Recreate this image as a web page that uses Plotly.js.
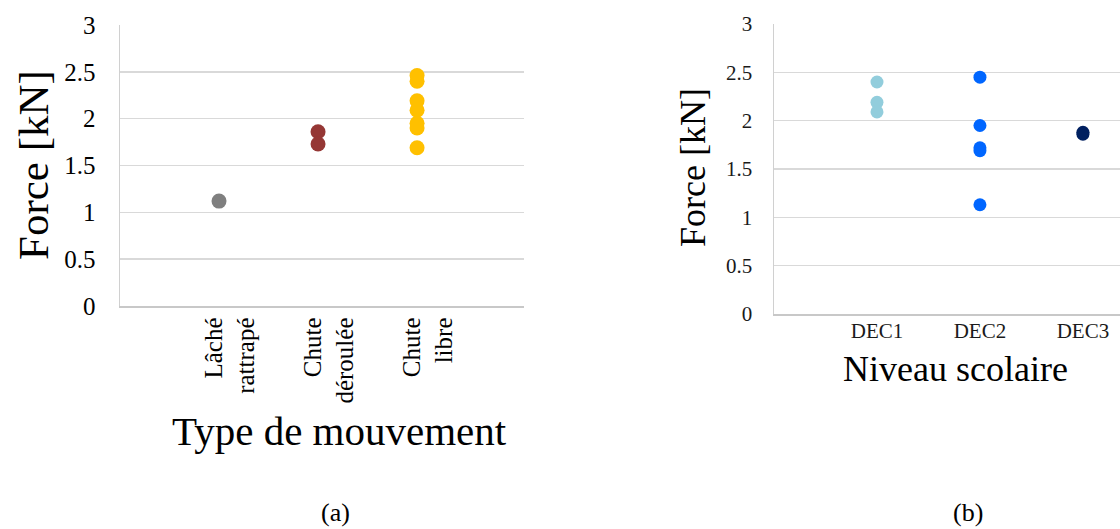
<!DOCTYPE html>
<html>
<head>
<meta charset="utf-8">
<script src="https://cdn.plot.ly/plotly-3.0.1.min.js"></script>
<style>html,body{margin:0;padding:0;background:#fff;}#chart{width:1120px;height:529px;}</style>
</head>
<body>
<div id="chart"></div>
<script>
// ---- Data (a): force by type of movement ----
const mouvementCats = ['Lâché<br>rattrapé', 'Chute<br>déroulée', 'Chute<br>libre'];
const lacheRattrape = [1.12];
const chuteDeroulee = [1.86, 1.73];
const chuteLibre = [2.46, 2.40, 2.19, 2.09, 1.95, 1.90, 1.69];

// ---- Data (b): force by school level ----
const niveauCats = ['DEC1', 'DEC2', 'DEC3'];
const dec1 = [2.40, 2.19, 2.09];
const dec2 = [2.45, 1.95, 1.72, 1.69, 1.13];
const dec3 = [1.88, 1.86];

// ---- Axis ticks ----
const yTickVals = [0, 0.5, 1, 1.5, 2, 2.5, 3];
const yTickText = ['0', '0.5', '1', '1.5', '2', '2.5', '3'];

const serif = 'Liberation Serif, Times New Roman, serif';

function pts(cat, vals, color, size, xa, ya) {
  return {
    type: 'scatter', mode: 'markers',
    x: vals.map(() => cat), y: vals,
    xaxis: xa, yaxis: ya,
    marker: {color: color, size: size, line: {width: 0}},
    showlegend: false, hoverinfo: 'skip'
  };
}

const data = [
  pts(mouvementCats[0], lacheRattrape, '#7F7F7F', 15, 'x', 'y'),
  pts(mouvementCats[1], chuteDeroulee, '#953735', 15, 'x', 'y'),
  pts(mouvementCats[2], chuteLibre, '#FFC000', 15, 'x', 'y'),
  pts(niveauCats[0], dec1, '#92CDDC', 13, 'x2', 'y2'),
  pts(niveauCats[1], dec2, '#0066FF', 13, 'x2', 'y2'),
  pts(niveauCats[2], dec3, '#002060', 13, 'x2', 'y2')
];

const W = 1120, H = 529;
const layout = {
  width: W, height: H,
  margin: {l: 0, r: 0, t: 0, b: 0},
  paper_bgcolor: '#fff', plot_bgcolor: '#fff',
  showlegend: false,
  xaxis: {
    domain: [120 / W, 524 / W],
    type: 'category', categoryarray: mouvementCats, categoryorder: 'array',
    range: [-1, 3.08],
    showgrid: false, zeroline: false,
    showline: true, linecolor: '#C8C8C8', linewidth: 1.5,
    ticks: '', tickangle: -90,
    ticklabelstandoff: 0, ticklabelshift: 11,
    tickfont: {family: serif, size: 25, color: '#000'},
    fixedrange: true
  },
  yaxis: {
    domain: [1 - 306 / H, 1 - 25 / H],
    anchor: 'x',
    range: [0, 3],
    tickvals: yTickVals, ticktext: yTickText,
    showgrid: true, gridcolor: '#D9D9D9', gridwidth: 1.5,
    zeroline: false,
    showline: true, linecolor: '#D0D0D0', linewidth: 1.5,
    ticks: '', ticklabelstandoff: 18,
    tickfont: {family: serif, size: 25, color: '#000'},
    fixedrange: true
  },
  xaxis2: {
    domain: [774 / W, 1],
    anchor: 'y2',
    type: 'category', categoryarray: niveauCats, categoryorder: 'array',
    range: [-1, 2.36],
    showgrid: false, zeroline: false,
    showline: true, linecolor: '#C8C8C8', linewidth: 1.5,
    ticks: '', ticklabelstandoff: -3,
    tickfont: {family: serif, size: 21, color: '#1a1a1a'},
    fixedrange: true
  },
  yaxis2: {
    domain: [1 - 314 / H, 1 - 24 / H],
    anchor: 'x2',
    range: [0, 3],
    tickvals: yTickVals, ticktext: yTickText,
    showgrid: true, gridcolor: '#D9D9D9', gridwidth: 1.5,
    zeroline: false,
    showline: true, linecolor: '#D0D0D0', linewidth: 1.5,
    ticks: '', ticklabelstandoff: 16,
    tickfont: {family: serif, size: 21, color: '#1a1a1a'},
    fixedrange: true
  },
  annotations: [
    {text: 'Force [kN]', textangle: -90, xref: 'paper', yref: 'paper',
     x: 33 / W, y: 1 - 165 / H, xanchor: 'center', yanchor: 'middle', showarrow: false,
     font: {family: serif, size: 43, color: '#000'}},
    {text: 'Type de mouvement', xref: 'paper', yref: 'paper',
     x: 339 / W, y: 1 - 431 / H, xanchor: 'center', yanchor: 'middle', showarrow: false,
     font: {family: serif, size: 41, color: '#000'}},
    {text: 'Force [kN]', textangle: -90, xref: 'paper', yref: 'paper',
     x: 693 / W, y: 1 - 168 / H, xanchor: 'center', yanchor: 'middle', showarrow: false,
     font: {family: serif, size: 36, color: '#000'}},
    {text: 'Niveau scolaire', xref: 'paper', yref: 'paper',
     x: 955 / W, y: 1 - 369 / H, xanchor: 'center', yanchor: 'middle', showarrow: false,
     font: {family: serif, size: 36, color: '#000'}},
    {text: '(a)', xref: 'paper', yref: 'paper',
     x: 335 / W, y: 1 - 512 / H, xanchor: 'center', yanchor: 'middle', showarrow: false,
     font: {family: serif, size: 26, color: '#000'}},
    {text: '(b)', xref: 'paper', yref: 'paper',
     x: 968 / W, y: 1 - 512 / H, xanchor: 'center', yanchor: 'middle', showarrow: false,
     font: {family: serif, size: 26, color: '#000'}}
  ]
};

Plotly.newPlot('chart', data, layout, {displayModeBar: false, staticPlot: true});
</script>
</body>
</html>
